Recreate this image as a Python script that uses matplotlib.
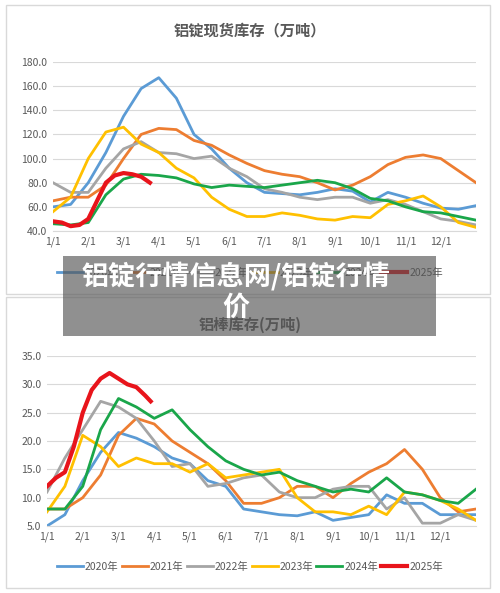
import numpy as np
import matplotlib
matplotlib.use("Agg")
import matplotlib.pyplot as plt
from matplotlib.patches import Rectangle

plt.rcParams['font.family'] = ['Noto Sans CJK SC', 'DejaVu Sans']

x_half = np.arange(0, 12.01, 0.5)
x_red = [0, 0.25, 0.5, 0.75, 1, 1.25, 1.5, 1.75, 2, 2.25, 2.5, 2.75]
x_red2 = [0, 0.25, 0.5, 0.75, 1, 1.25, 1.5, 1.75, 2, 2.25, 2.5, 2.75, 2.9]
month_labels = ["1/1", "2/1", "3/1", "4/1", "5/1", "6/1", "7/1", "8/1", "9/1", "10/1", "11/1", "12/1"]
years = ["2020年", "2021年", "2022年", "2023年", "2024年", "2025年"]
colors = ["#5b9bd5", "#ed7d31", "#a5a5a5", "#ffc000", "#1aa64a", "#e8141b"]

ingot_2020 = [60, 62, 80, 105, 135, 158, 167, 150, 120, 108, 92, 80, 72, 71, 70, 72, 75, 73, 64, 72, 68, 63, 59, 58, 61]
ingot_2021 = [65, 68, 68, 78, 100, 120, 125, 124, 115, 111, 103, 96, 90, 87, 85, 80, 74, 78, 85, 95, 101, 103, 100, 90, 80]
ingot_2022 = [80, 72, 72, 92, 108, 114, 105, 104, 100, 102, 92, 85, 75, 72, 68, 66, 68, 68, 63, 66, 62, 56, 50, 48, 45]
ingot_2023 = [56, 68, 100, 122, 126, 112, 105, 92, 84, 68, 58, 52, 52, 55, 53, 50, 49, 52, 51, 62, 65, 69, 60, 47, 43]
ingot_2024 = [46, 45, 47, 70, 83, 87, 86, 84, 79, 76, 78, 77, 76, 78, 80, 82, 80, 75, 67, 65, 60, 56, 55, 52, 49]
ingot_2025 = [48, 47, 44, 45, 50, 65, 80, 86, 88, 87, 85, 80]

rod_2020 = [5, 7, 13, 18, 21.5, 20.5, 19, 17, 16, 13, 12, 8, 7.5, 7, 6.8, 7.5, 6, 6.5, 7, 10.5, 9, 9, 7, 7, 7]
rod_2021 = [8, 8, 10, 14, 21, 24, 23, 20, 18, 16, 13, 9, 9, 10, 12, 12, 10, 12.5, 14.5, 16, 18.5, 15, 10, 7.5, 8]
rod_2022 = [11, 17, 22, 27, 26, 24, 20, 15.5, 16, 12, 12.5, 13.5, 14, 11, 10, 10, 11.5, 12, 12, 8, 10, 5.5, 5.5, 7, 6]
rod_2023 = [7.5, 12, 21, 19, 15.5, 17, 16, 16, 14.5, 16, 13.5, 14, 14.5, 15, 10, 7.5, 7.5, 7, 8.5, 7, 11, 10.5, 9.5, 8, 6]
rod_2024 = [8, 8, 12, 22, 27.5, 26, 24, 25.5, 22, 19, 16.5, 15, 14, 14.5, 13, 12, 11, 11.5, 11, 13.5, 11, 10.5, 9.5, 9, 11.5]
rod_2025 = [12, 13.5, 14.5, 19, 25, 29, 31, 32, 31, 30, 29.5, 28, 27]

W, H = 500, 593
fig = plt.figure(figsize=(5, 5.93), dpi=100)
fig.patch.set_facecolor("white")

for (y0, y1) in [(5, 294), (297, 588)]:
    fig.add_artist(Rectangle((6 / W, 1 - y1 / H), 484 / W, (y1 - y0) / H,
                             transform=fig.transFigure, fill=False, ec="#d9d9d9", lw=1))

def style(ax, ylim, yticks):
    ax.set_xlim(0, 12)
    ax.set_ylim(*ylim)
    ax.set_yticks(yticks)
    ax.set_yticklabels([f"{v:.1f}" for v in yticks])
    ax.set_xticks(range(12))
    ax.set_xticklabels(month_labels)
    ax.grid(axis="y", color="#d9d9d9", lw=0.8)
    ax.set_axisbelow(True)
    for s in ["top", "right", "left"]:
        ax.spines[s].set_visible(False)
    ax.spines["bottom"].set_color("#d9d9d9")
    ax.tick_params(axis="both", length=0, labelsize=7.5, colors="#595959", pad=4)

ax1 = fig.add_axes([53 / W, 1 - 231 / H, 423 / W, 169 / H])
series1 = [ingot_2020, ingot_2021, ingot_2022, ingot_2023, ingot_2024]
lines = []
for s, c, lab in zip(series1, colors, years):
    l, = ax1.plot(x_half, s, color=c, lw=2, label=lab)
    lines.append(l)
l, = ax1.plot(x_red, ingot_2025, color=colors[5], lw=3, label=years[5])
lines.append(l)
style(ax1, (40, 180), np.arange(40, 181, 20))
fig.text(0.5, 1 - 30 / H, "铝锭现货库存（万吨）", ha="center", va="center", fontsize=11, fontweight="bold", color="#595959")
fig.legend(lines, years, loc="center", bbox_to_anchor=(0.5, 1 - 273 / H), ncol=6, frameon=False,
           fontsize=7.5, handlelength=2.5, columnspacing=0.3, handletextpad=0.2, labelcolor="#595959")

ax2 = fig.add_axes([47 / W, 1 - 526 / H, 429 / W, 170 / H])
series2 = [rod_2020, rod_2021, rod_2022, rod_2023, rod_2024]
lines2 = []
for s, c, lab in zip(series2, colors, years):
    l, = ax2.plot(x_half, s, color=c, lw=2, label=lab)
    lines2.append(l)
l, = ax2.plot(x_red2, rod_2025, color=colors[5], lw=3, label=years[5])
lines2.append(l)
style(ax2, (5, 35), np.arange(5, 36, 5))
fig.text(0.5, 1 - 325 / H, "铝棒库存(万吨)", ha="center", va="center", fontsize=11, fontweight="bold", color="#595959")
fig.legend(lines2, years, loc="center", bbox_to_anchor=(0.5, 1 - 567 / H), ncol=6, frameon=False,
           fontsize=7.5, handlelength=2.5, columnspacing=0.3, handletextpad=0.2, labelcolor="#595959")

fig.add_artist(Rectangle((63 / W, 1 - 336 / H), 373 / W, 80 / H, transform=fig.transFigure,
                         fc="#555555", alpha=0.65, ec="none", zorder=10))
fig.text(236 / W, 1 - 276 / H, "铝锭行情信息网/铝锭行情", ha="center", va="center", fontsize=19.5,
         fontweight="bold", color="white", zorder=11)
fig.text(236 / W, 1 - 308 / H, "价", ha="center", va="center", fontsize=19.5,
         fontweight="bold", color="white", zorder=11)

fig.savefig("out.png", dpi=100)
